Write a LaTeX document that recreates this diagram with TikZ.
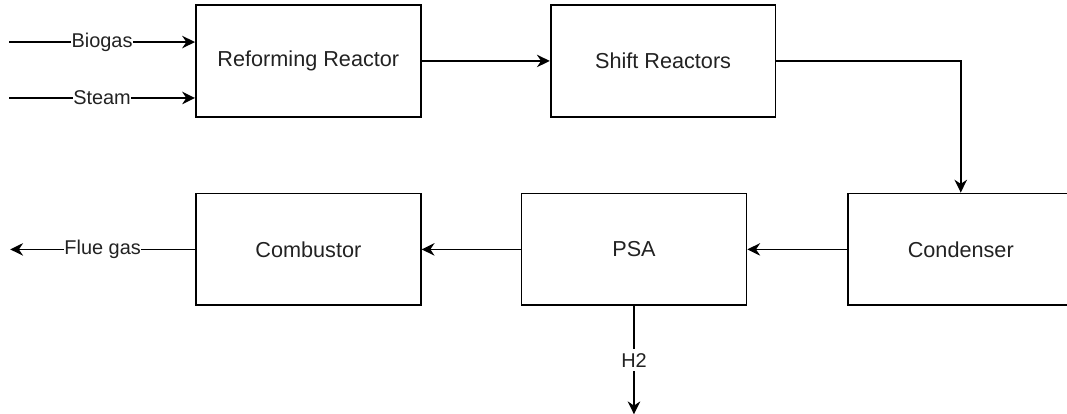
\documentclass[tikz,border=0pt]{standalone}
\usepackage{fontspec}
\setmainfont{Liberation Sans}
\usetikzlibrary{arrows.meta,positioning,calc}
\definecolor{Line}{HTML}{000000}
\definecolor{Label}{HTML}{222222}

\begin{document}
\begin{tikzpicture}[
 b/.style={draw=Line,line width=1.3pt,minimum width=59.5mm,minimum height=29.6mm,align=center,font=\fontsize{16.3}{19}\selectfont,text=Label},
 a/.style={-{Stealth[length=3.4mm,width=3.3mm,inset=1.1mm]},line width=1.3pt,draw=Line},
 l/.style={fill=white,inner sep=0.3pt,font=\fontsize{15}{18}\selectfont,text=Label}
]
\node[b] (reform) {Reforming Reactor};
\node[b,right=33.9mm of reform] (shift) {Shift Reactors};
\node[b,below=19.8mm of reform] (comb) {Combustor};
\node[b,right=26.2mm of comb] (psa) {PSA};
\node[b,right=26.5mm of psa] (cond) {Condenser};
\coordinate (biogas) at ([shift={(-49.2mm,5.0mm)}]reform.west);
\coordinate (steam) at ([shift={(-49.2mm,-9.8mm)}]reform.west);
\coordinate (flue) at ([xshift=-48.9mm]comb.west);
\coordinate (htwo) at ([yshift=-28.6mm]psa.south);
\draw[a] (biogas)--node[l]{Biogas}(biogas-|reform.west);
\draw[a] (steam)--node[l]{Steam}(steam-|reform.west);
\draw[a] (reform)--(shift);
\draw[a] (shift.east)-|(cond.north);
\draw[a] (cond)--(psa);\draw[a] (psa)--(comb);
\draw[a] (comb)--node[l]{Flue gas}(flue);
\draw[a] (psa)--node[l,inner ysep=3pt]{H2}(htwo);
\pgfresetboundingbox
\useasboundingbox ([shift={(-51.6mm,1.1mm)}]reform.north west) rectangle ++(282.3mm,-109.5mm);
\end{tikzpicture}
\end{document}
